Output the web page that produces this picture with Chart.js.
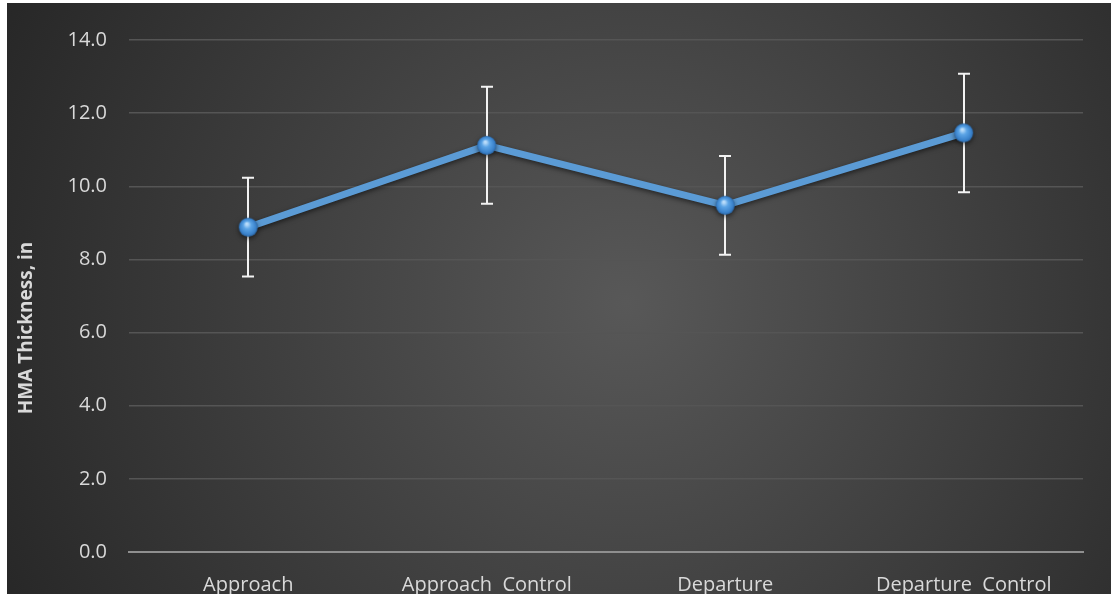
<!DOCTYPE html>
<html>
<head>
<meta charset="utf-8">
<script src="https://cdn.jsdelivr.net/npm/chart.js@4.4.0/dist/chart.umd.min.js"></script>
<style>
    body { margin: 0; background: #fff; }
    .wrap { position: absolute; left: 7px; top: 3px; width: 1104px; height: 591px; }
</style>
</head>
<body>
<div class="wrap"><canvas id="thickness"></canvas></div>
<script>
// data
const categories = ['Approach', 'Approach  Control', 'Departure', 'Departure  Control'];
const meanThickness = [8.88, 11.12, 9.48, 11.46];
const errorAmount = [1.35, 1.6, 1.35, 1.62];
const yMin = 0;
const yMax = 14;
const yStep = 2;
const yTitle = 'HMA Thickness, in';

const ctx = document.getElementById('thickness').getContext('2d');

// little glossy ball for the markers
function makeBall(r) {
    const c = document.createElement('canvas');
    c.width = r * 2 + 2;
    c.height = r * 2 + 2;
    const g = c.getContext('2d');
    const cx = r + 1, cy = r + 1;
    const grad = g.createRadialGradient(cx - r * 0.15, cy - r * 0.35, 1, cx, cy, r);
    grad.addColorStop(0, '#b9dcfa');
    grad.addColorStop(0.35, '#5ba4e6');
    grad.addColorStop(0.8, '#3b83cc');
    grad.addColorStop(1, '#2c68a8');
    g.beginPath();
    g.arc(cx, cy, r, 0, Math.PI * 2);
    g.fillStyle = grad;
    g.fill();
    return c;
}
const ball = makeBall(9.5);

const background = {
    id: 'background',
    beforeDraw(chart) {
        const c = chart.ctx;
        const w = chart.width, h = chart.height;
        const grad = c.createRadialGradient(620, 300, 0, 620, 300, 720);
        grad.addColorStop(0, '#585858');
        grad.addColorStop(1, '#252525');
        c.save();
        c.fillStyle = grad;
        c.fillRect(0, 0, w, h);
        c.restore();
    }
};

// excel puts the axis title a bit below the middle, so it is drawn here
const axisTitle = {
    id: 'axisTitle',
    afterDraw(chart) {
        const c = chart.ctx;
        c.save();
        c.translate(20, 325);
        c.rotate(-Math.PI / 2);
        c.font = 'bold 19px "Open Sans"';
        c.fillStyle = '#d9d9d9';
        c.textAlign = 'center';
        c.textBaseline = 'middle';
        c.fillText(yTitle, 0, 0);
        c.restore();
    }
};

const errorBars = {
    id: 'errorBars',
    beforeDatasetsDraw(chart) {
        const c = chart.ctx;
        const x = chart.scales.x;
        const y = chart.scales.y;
        c.save();
        c.strokeStyle = '#f2f2f2';
        c.lineWidth = 2;
        meanThickness.forEach(function (m, i) {
            const px = Math.round(x.getPixelForValue(i));
            const top = y.getPixelForValue(m + errorAmount[i]);
            const bot = y.getPixelForValue(m - errorAmount[i]);
            c.beginPath();
            c.moveTo(px, top);
            c.lineTo(px, bot);
            c.moveTo(px - 6, top);
            c.lineTo(px + 6, top);
            c.moveTo(px - 6, bot);
            c.lineTo(px + 6, bot);
            c.stroke();
        });
        c.restore();
    },
    beforeDatasetDraw(chart) {
        const c = chart.ctx;
        c.save();
        c.shadowColor = 'rgba(0,0,0,0.55)';
        c.shadowBlur = 5;
        c.shadowOffsetY = 2;
    },
    afterDatasetDraw(chart) {
        chart.ctx.restore();
    }
};

const thicknessChart = new Chart(ctx, {
    type: 'line',
    data: {
        labels: categories,
        datasets: [{
            label: 'HMA Thickness',
            data: meanThickness,
            borderColor: '#5b9bd5',
            borderWidth: 7,
            pointStyle: ball,
            pointRadius: 9,
            pointHoverRadius: 9,
            tension: 0
        }]
    },
    options: {
        responsive: true,
        maintainAspectRatio: false,
        animation: false,
        layout: { padding: { top: 37, right: 28, left: 0, bottom: 0 } },
        plugins: {
            legend: { display: false },
            tooltip: { enabled: false }
        },
        scales: {
            x: {
                offset: true,
                afterFit(scale) { scale.height = 42; },
                grid: { display: false, drawTicks: false },
                border: { display: true, color: '#8f8f8f', width: 2 },
                ticks: {
                    color: '#d9d9d9',
                    font: { family: 'Open Sans', size: 20 },
                    padding: 21,
                    maxRotation: 0,
                    autoSkip: false
                }
            },
            y: {
                min: yMin,
                max: yMax,
                afterFit(scale) { scale.width = 122; },
                grid: { color: '#555555', lineWidth: 1.5, drawTicks: false },
                border: { display: false },
                ticks: {
                    stepSize: yStep,
                    color: '#d9d9d9',
                    font: { family: 'Open Sans', size: 20 },
                    padding: 22,
                    callback: function (v) { return v.toFixed(1); }
                }
            }
        }
    },
    plugins: [background, errorBars, axisTitle]
});
</script>
</body>
</html>
